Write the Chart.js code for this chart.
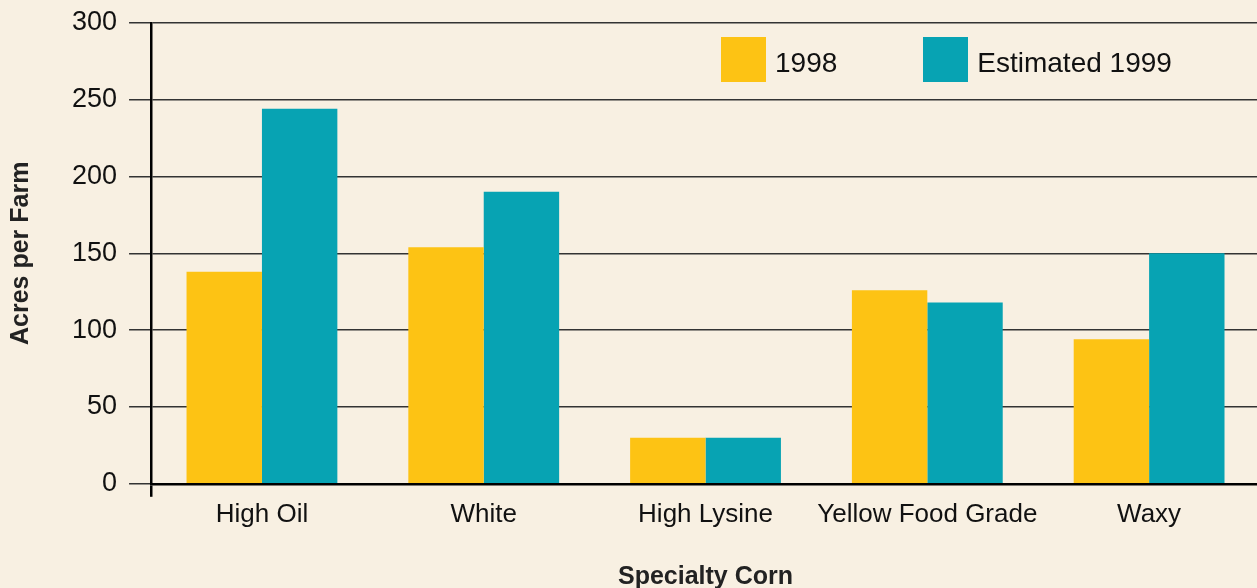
<!DOCTYPE html>
<html>
<head>
<meta charset="utf-8">
<script src="https://cdn.jsdelivr.net/npm/chart.js@4"></script>
<style>
  html, body { margin: 0; padding: 0; background: #f8f0e2; overflow: hidden; }
  #wrap { position: relative; width: 1257px; height: 588px; overflow: hidden; }
  #legend { position: absolute; left: 721px; top: 37px; display: flex; align-items: center;
    white-space: nowrap; font-family: "Liberation Sans", Arial, sans-serif; font-size: 28px; color: #111; }
  #legend .item { display: flex; align-items: center; margin-right: 86px; flex: none; }
  #legend .box { width: 45px; height: 45px; margin-right: 9px; flex: none; }
  #legend span { position: relative; top: 3px; }
</style>
</head>
<body>
<div id="wrap">
  <canvas id="myChart" width="1260" height="588"></canvas>
  <div id="legend"></div>
</div>
<script>
const categories = ["High Oil", "White", "High Lysine", "Yellow Food Grade", "Waxy"];
const acres1998 = [138, 154, 30, 126, 94];
const acres1999 = [244, 190, 30, 118, 150];
const seriesNames = ["1998", "Estimated 1999"];
const seriesColors = ["#fdc314", "#07a3b3"];
const yTicks = [0, 50, 100, 150, 200, 250, 300];

const font = "'Liberation Sans', Arial, sans-serif";

const data = {
  labels: categories,
  datasets: [
    {
      label: seriesNames[0],
      data: acres1998,
      backgroundColor: seriesColors[0],
      categoryPercentage: 0.68,
      barPercentage: 1.0,
    },
    {
      label: seriesNames[1],
      data: acres1999,
      backgroundColor: seriesColors[1],
      categoryPercentage: 0.68,
      barPercentage: 1.0,
    },
  ],
};

const config = {
  type: "bar",
  data: data,
  options: {
    responsive: false,
    animation: false,
    layout: { padding: { top: 7, left: 0, right: 0, bottom: 0 } },
    plugins: {
      legend: { display: false },
      tooltip: { enabled: false },
    },
    scales: {
      x: {
        border: { color: "#000", width: 2.5 },
        grid: {
          drawOnChartArea: false,
          tickLength: 13,
          lineWidth: 2.5,
          color: (ctx) => (ctx.index === 0 ? "#000" : "rgba(0,0,0,0)"),
        },
        ticks: {
          color: "#111",
          font: { family: font, size: 26 },
          padding: 2,
          maxRotation: 0,
          autoSkip: false,
        },
        title: {
          display: true,
          text: "Specialty Corn",
          color: "#222",
          font: { family: font, size: 25, weight: "bold", lineHeight: 0.84 },
          padding: { top: 35, bottom: 0 },
        },
      },
      y: {
        min: 0,
        max: 300,
        afterBuildTicks: (axis) => { axis.ticks = yTicks.map((v) => ({ value: v })); },
        border: { color: "#000", width: 2.5 },
        grid: { color: "#333", lineWidth: 1.5, tickLength: 22 },
        ticks: { color: "#111", font: { family: font, size: 27, lineHeight: 0.8 }, padding: 12 },
        title: {
          display: true,
          text: "Acres per Farm",
          color: "#222",
          font: { family: font, size: 25, weight: "bold" },
          padding: { top: 6, bottom: 24 },
        },
      },
    },
  },
};

const myChart = new Chart(document.getElementById("myChart"), config);

// legend as html, built from the series arrays
const legendEl = document.getElementById("legend");
seriesNames.forEach((name, i) => {
  const item = document.createElement("div");
  item.className = "item";
  const box = document.createElement("div");
  box.className = "box";
  box.style.background = seriesColors[i];
  const txt = document.createElement("span");
  txt.textContent = name;
  item.appendChild(box);
  item.appendChild(txt);
  legendEl.appendChild(item);
});
</script>
</body>
</html>
